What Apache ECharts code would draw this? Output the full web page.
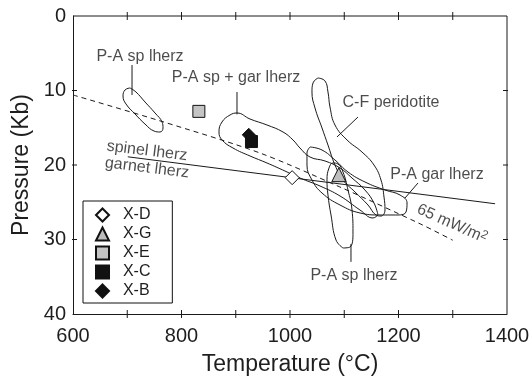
<!DOCTYPE html>
<html><head><meta charset="utf-8">
<script src="https://cdn.jsdelivr.net/npm/echarts@6/dist/echarts.min.js"></script>
<style>html,body{margin:0;padding:0;background:#fff}#c{width:531px;height:376px}</style>
</head><body><div id="c"></div>
<script>
// ---------- data ----------
const xTickLabels = [600, 800, 1000, 1200, 1400];
const xMinorTicks = [700, 800, 900, 1000, 1100, 1200, 1300];
const yTickLabels = [0, 10, 20, 30, 40];
const yMinorTicks = [10, 20, 30];

const sampleNames = ['X-D', 'X-G', 'X-E', 'X-C', 'X-B'];
const sampleT = [1004, 1090, 832, 929, 924];
const sampleP = [21.7, 21.3, 12.8, 16.85, 15.95];

// 65 mW/m2 geotherm
const geotherm65 = [[600, 10.6], [766, 14.2], [945, 18.4], [1092, 22.95], [1240, 27.9], [1300, 30.1]];
// spinel / garnet lherzolite boundary
const spinelGarnet = [[701, 18.9], [1378, 25.2]];

// outlined fields
const fieldPAspUpper = [[705.1, 9.66], [716.1, 10.2], [732.7, 11.54], [751.2, 13.02], [764.1, 14.23], [765.9, 15.03], [760.4, 15.57], [749.3, 15.44], [732.7, 14.5], [714.3, 13.15], [697.7, 11.81], [692.2, 10.74], [695.9, 9.93], [705.1, 9.66]];
const fieldPAspGar = [[1162.2, 26.71], [1153.0, 27.11], [1129.0, 26.04], [1092.2, 24.16], [1055.3, 22.82], [1018.4, 21.75], [990.8, 20.81], [957.6, 19.73], [926.3, 18.79], [894.9, 17.72], [874.7, 16.64], [869.1, 15.57], [874.6, 14.23], [889.4, 13.29], [902.3, 13.02], [926.3, 13.83], [957.6, 14.63], [987.1, 15.57], [1005.5, 16.64], [1018.4, 17.72], [1036.9, 18.93], [1064.5, 19.46], [1092.2, 20.4], [1114.3, 21.75], [1138.2, 23.36], [1154.8, 25.1], [1162.2, 26.71]];
const fieldCF = [[1051.6, 8.32], [1064.5, 8.72], [1070.0, 10.2], [1073.7, 12.21], [1082.9, 14.63], [1105.1, 16.64], [1132.7, 18.26], [1154.8, 20.0], [1167.7, 22.01], [1173.3, 24.3], [1175.1, 26.04], [1167.7, 26.85], [1158.5, 26.71], [1143.8, 25.37], [1119.8, 23.62], [1097.7, 22.01], [1082.9, 20.0], [1070.0, 17.32], [1059.0, 15.03], [1046.1, 12.35], [1040.5, 10.2], [1042.4, 8.99], [1051.6, 8.32]];
const fieldPAgar = [[1036.9, 17.58], [1059.0, 17.99], [1082.9, 19.33], [1106.9, 20.94], [1138.2, 22.28], [1175.1, 23.36], [1202.8, 24.03], [1215.7, 25.1], [1213.8, 26.31], [1199.1, 26.71], [1165.9, 26.71], [1129.0, 26.44], [1092.2, 25.37], [1059.0, 23.76], [1040.5, 22.01], [1031.3, 20.0], [1031.3, 18.39], [1036.9, 17.58]];
const fieldPAspLower = [[1097.7, 31.14], [1110.6, 31.01], [1116.1, 28.99], [1114.3, 26.04], [1106.9, 23.36], [1097.7, 20.94], [1088.5, 19.87], [1079.3, 19.73], [1071.9, 20.4], [1068.2, 22.01], [1070.0, 24.03], [1075.6, 26.71], [1084.8, 30.07], [1097.7, 31.14]];

// leader lines from labels to fields
const leaders = [
  [[708.8, 6.58], [708.8, 10.6]],
  [[902.3, 10.2], [902.3, 13.2]],
  [[1125.3, 13.56], [1086.6, 16.24]],
  [[1235.9, 22.42], [1212.0, 24.43]],
  [[1112.4, 30.6], [1112.4, 33.0]]
];

// annotation texts and their anchor (data coordinates)
const annoText = ['P-A sp lherz', 'P-A sp + gar lherz', 'C-F peridotite', 'P-A gar lherz', 'P-A sp lherz', 'spinel lherz', 'garnet lherz', '65 mW/m{s|2}'];
const annoT = [723.5, 900.5, 1186.2, 1271.0, 1118.0, 736.4, 736.4, 1298.6];
const annoP = [5.5, 8.32, 11.68, 21.34, 34.9, 18.12, 20.4, 27.9];
const annoRotate = [0, 0, 0, 0, 0, -7, -7, -24];

// ---------- chart ----------
const FONT = '"Liberation Sans", Arial, Helvetica, sans-serif';
const INK = '#1a1a1a';
const TXT = '#1e1e1e';
const X_MIN = 600, X_MAX = 1400, Y_MIN = 0, Y_MAX = 40;
const GRID = { left: 73, right: 24, top: 16, bottom: 62 };
const W = 531, H = 376, TICK_PX = 4;
// tick half-length expressed in axis units (4 px)
const tickT = TICK_PX * (X_MAX - X_MIN) / (W - GRID.left - GRID.right);
const tickP = TICK_PX * (Y_MAX - Y_MIN) / (H - GRID.top - GRID.bottom);

const chart = echarts.init(document.getElementById('c'), null, { renderer: 'canvas' });

const sampleStyle = {
  'X-D': { symbol: 'diamond', size: 14, color: '#ffffff' },
  'X-G': { symbol: 'triangle', size: 14, color: '#bdbdbd' },
  'X-E': { symbol: 'rect', size: 12, color: '#c4c4c4' },
  'X-C': { symbol: 'rect', size: 12, color: '#111111' },
  'X-B': { symbol: 'diamond', size: 13, color: '#111111' }
};

const series = [];
const lineBase = { type: 'line', symbol: 'none', silent: true, animation: false };
const seg = d => Object.assign({}, lineBase, { data: d, clip: false, z: 5, lineStyle: { color: INK, width: 1 } });

// top and right sides of the frame
series.push(seg([[X_MIN, Y_MIN], [X_MAX, Y_MIN], [X_MAX, Y_MAX]]));
// crossing tick marks on all four sides
xMinorTicks.forEach(t => {
  series.push(seg([[t, Y_MIN - tickP], [t, Y_MIN + tickP]]));
  series.push(seg([[t, Y_MAX - tickP], [t, Y_MAX + tickP]]));
});
yMinorTicks.forEach(p => {
  series.push(seg([[X_MIN - tickT, p], [X_MIN + tickT, p]]));
  series.push(seg([[X_MAX - tickT, p], [X_MAX + tickT, p]]));
});

[fieldPAspUpper, fieldPAspGar, fieldCF, fieldPAgar, fieldPAspLower].forEach(f => {
  series.push(Object.assign({}, lineBase, { data: f, smooth: 0.45, lineStyle: { color: INK, width: 1 } }));
});
leaders.forEach(l => {
  series.push(Object.assign({}, lineBase, { data: l, lineStyle: { color: INK, width: 1 } }));
});
series.push(Object.assign({}, lineBase, { data: geotherm65, smooth: 0.3, lineStyle: { color: INK, width: 1, type: [5, 4] } }));
series.push(Object.assign({}, lineBase, { data: spinelGarnet, lineStyle: { color: INK, width: 1 } }));

sampleNames.forEach((n, i) => {
  const s = sampleStyle[n];
  series.push({
    name: n, type: 'scatter',
    data: [[sampleT[i], sampleP[i]]],
    symbol: s.symbol, symbolSize: s.size, z: 10,
    itemStyle: { color: s.color, borderColor: '#111', borderWidth: 1, opacity: 1 }
  });
});

series.push({
  type: 'scatter', silent: true, z: 20,
  symbolSize: 1, itemStyle: { color: 'rgba(0,0,0,0)' },
  data: annoText.map((t, i) => ({
    value: [annoT[i], annoP[i]],
    label: {
      show: true, position: 'inside', formatter: t, rotate: annoRotate[i],
      fontSize: 16, color: TXT, fontFamily: FONT,
      rich: { s: { fontSize: 12, color: TXT, fontFamily: FONT, verticalAlign: 'top', padding: [0, 0, 6, 0] } }
    }
  }))
});

chart.setOption({
  animation: false,
  backgroundColor: '#ffffff',
  grid: Object.assign({ outerBoundsMode: 'none', containLabel: false }, GRID),
  xAxis: {
    type: 'value', position: 'bottom', min: X_MIN, max: X_MAX, interval: 100,
    axisLine: { show: true, onZero: false, lineStyle: { color: INK, width: 1 } },
    axisTick: { show: false },
    axisLabel: { formatter: v => (xTickLabels.indexOf(v) >= 0 ? String(v) : ''), margin: 12, fontSize: 20, color: TXT, fontFamily: FONT },
    splitLine: { show: false },
    name: 'Temperature (°C)', nameLocation: 'middle', nameGap: 39,
    nameTextStyle: { fontSize: 23, color: TXT, fontFamily: FONT }
  },
  yAxis: {
    type: 'value', position: 'left', min: Y_MIN, max: Y_MAX, interval: 10, inverse: true,
    axisLine: { show: true, onZero: false, lineStyle: { color: INK, width: 1 } },
    axisTick: { show: false },
    axisLabel: { formatter: v => (yTickLabels.indexOf(v) >= 0 ? String(v) : ''), margin: 7, fontSize: 20, color: TXT, fontFamily: FONT },
    splitLine: { show: false },
    name: 'Pressure (Kb)', nameLocation: 'middle', nameGap: 37,
    nameTextStyle: { fontSize: 23, color: TXT, fontFamily: FONT }
  },
  legend: {
    data: sampleNames, orient: 'vertical', left: 83, top: 201,
    padding: [6, 21, 4, 12], itemWidth: 13, itemHeight: 13, itemGap: 3,
    borderColor: '#111', borderWidth: 1, backgroundColor: '#fff',
    formatter: n => '  ' + n,
    textStyle: { fontSize: 16, color: TXT, fontFamily: FONT },
    selectedMode: false
  },
  series: series
});
</script></body></html>
